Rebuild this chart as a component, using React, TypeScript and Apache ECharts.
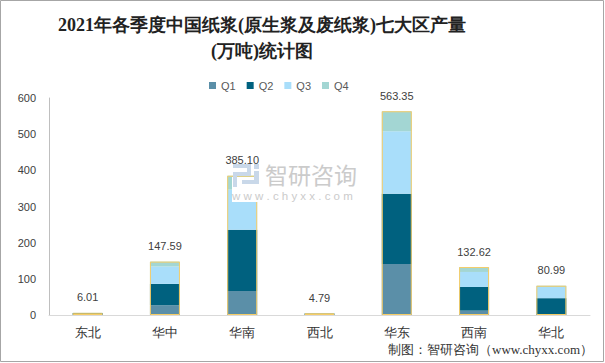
import React, { useEffect, useRef } from "react";
import * as echarts from "echarts";

const categories = ["东北", "华中", "华南", "西北", "华东", "西南", "华北"];
const seriesNames = ["Q1", "Q2", "Q3", "Q4"];
const q1 = [0.3, 27, 66.5, 0.3, 141, 12, 0.5];
const q2 = [5.2, 59, 169, 4.0, 194, 65.5, 46];
const q3 = [0.3, 48, 111, 0.3, 173, 41.5, 31];
const q4 = [0.21, 13.59, 38.6, 0.19, 55.35, 13.62, 3.49];
const totals = [6.01, 147.59, 385.1, 4.79, 563.35, 132.62, 80.99];
const yTicks = { min: 0, max: 600, interval: 100 };
const colors = ["#5b8fa8", "#00617f", "#a9defa", "#a3d6d3"];

const titleText = "2021年各季度中国纸浆(原生浆及废纸浆)七大区产量\n(万吨)统计图";
const footerText = "制图：智研咨询（www.chyxx.com）";

export default function App() {
  const ref = useRef<HTMLDivElement>(null);
  useEffect(() => {
    document.body.style.margin = "0";
    const chart = echarts.init(ref.current!, null, { renderer: "svg" });
    const values = [q1, q2, q3, q4];
    const stackSeries = seriesNames.map((name, i) => ({
      name,
      type: "bar",
      stack: "a",
      barWidth: 30,
      data: values[i],
      itemStyle: { color: colors[i] },
    }));
    chart.setOption({
      animation: false,
      backgroundColor: "#fff",
      legend: {
        data: seriesNames,
        left: 204,
        top: 75,
        itemWidth: 7,
        itemHeight: 7,
        itemGap: 11,
        icon: "rect",
        textStyle: { fontSize: 11, color: "#595959", fontFamily: "sans-serif" },
      },
      grid: { left: 49, right: 15, top: 98, bottom: 48 },
      xAxis: {
        type: "category",
        data: categories,
        axisLine: { lineStyle: { color: "#d9d9d9" } },
        axisTick: { show: false },
        axisLabel: { fontSize: 13, color: "#333", margin: 11, fontFamily: "sans-serif" },
      },
      yAxis: {
        type: "value",
        min: yTicks.min,
        max: yTicks.max,
        interval: yTicks.interval,
        axisLine: { show: true, lineStyle: { color: "#bfbfbf" } },
        axisTick: { show: false },
        splitLine: { show: false },
        axisLabel: { fontSize: 11, color: "#404040", margin: 13, fontFamily: "sans-serif" },
      },
      series: [
        ...stackSeries,
        {
          name: "合计",
          type: "bar",
          barWidth: 30,
          barGap: "-100%",
          z: 3,
          data: totals,
          itemStyle: {
            color: "rgba(0,0,0,0)",
            borderColor: "#f6cd68",
            borderWidth: 1,
          },
          label: {
            show: true,
            position: "top",
            distance: 10,
            fontSize: 11,
            color: "#404040",
            fontFamily: "sans-serif",
            formatter: (p: any) => p.value.toFixed(2),
          },
        },
      ],
      graphic: [
        {
          type: "text",
          x: 262,
          y: 12,
          style: {
            text: titleText,
            textAlign: "center",
            fontFamily: "serif",
            fontWeight: "bold",
            fontSize: 18,
            lineHeight: 26,
            fill: "#222",
          },
        },
        {
          type: "rect",
          z: 100,
          shape: { x: 232, y: 177, width: 141, height: 25 },
          style: { fill: "#fff" },
        },
        {
          type: "group",
          z: 101,
          children: [
            { type: "rect", z: 101, shape: { x: 233, y: 164, width: 18, height: 4 }, style: { fill: "#c9d8e9" } },
            { type: "rect", z: 101, shape: { x: 247, y: 164, width: 4, height: 12 }, style: { fill: "#c9d8e9" } },
            { type: "rect", z: 101, shape: { x: 233, y: 172, width: 18, height: 4 }, style: { fill: "#c9d8e9" } },
            { type: "rect", z: 101, shape: { x: 233, y: 172, width: 4, height: 15 }, style: { fill: "#c9d8e9" } },
            { type: "rect", z: 101, shape: { x: 242, y: 180, width: 17, height: 4 }, style: { fill: "#c9d8e9" } },
            { type: "rect", z: 101, shape: { x: 254, y: 164, width: 5, height: 5 }, style: { fill: "#c9d8e9" } },
            { type: "rect", z: 101, shape: { x: 254, y: 171, width: 5, height: 11 }, style: { fill: "#c9d8e9" } },
          ],
        },
        {
          type: "text",
          z: 101,
          x: 265,
          y: 174,
          style: {
            text: "智研咨询",
            fontSize: 23,
            textVerticalAlign: "middle",
            fill: "#cbcbcb",
            fontFamily: "Noto Sans CJK SC",
          },
        },
        {
          type: "text",
          z: 101,
          x: 232,
          y: 196,
          style: {
            text: "w w w . c h y x x . c o m",
            fontSize: 11.5,
            textVerticalAlign: "middle",
            fill: "#cbcbcb",
            fontFamily: "sans-serif",
          },
        },
        {
          type: "text",
          x: 593,
          y: 343,
          style: {
            text: footerText,
            textAlign: "right",
            fontSize: 13,
            fill: "#333",
            fontFamily: "serif",
          },
        },
        {
          type: "rect",
          z: 200,
          shape: { x: 0.5, y: 0.5, width: 603, height: 361 },
          style: { fill: "none", stroke: "#a6a6a6", lineWidth: 1 },
        },
      ],
    });
    return () => chart.dispose();
  }, []);
  return <div ref={ref} style={{ width: 605, height: 363 }} />;
}
